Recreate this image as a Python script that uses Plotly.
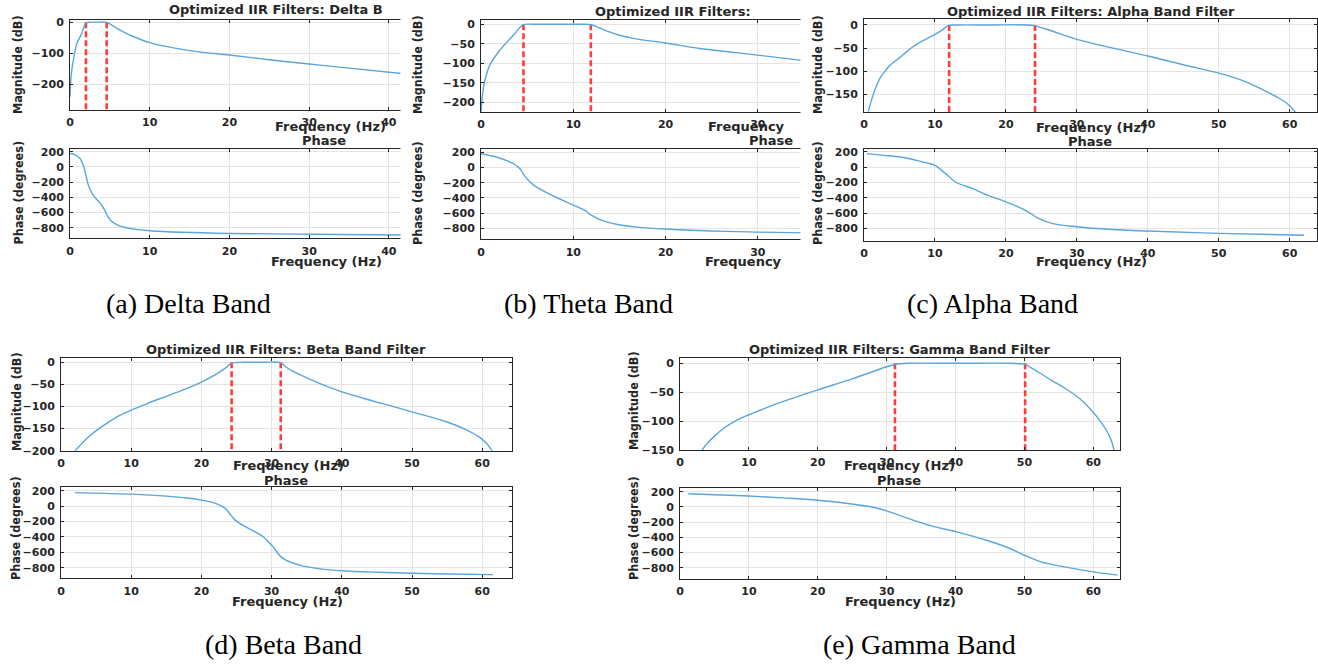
import plotly.graph_objects as go

W, H = 1318, 664

# ---------------- data ----------------
delta_mag_f = [0, 0.1, 0.2, 0.42, 0.84, 1.46, 2.0, 2.6, 3.5, 4.4, 4.8, 5.3, 5.9, 6.8, 8.0, 10, 13, 16, 20, 25, 30, 35, 41.9]
delta_mag_db = [-240, -190, -160, -123, -70, -37, -3, 0, 0, 0, -3, -10, -20, -33, -47, -66, -83, -95, -106, -121, -135, -148, -166]
delta_ph_f = [0, 0.6, 1.25, 1.67, 2.0, 2.3, 2.9, 3.8, 4.3, 4.8, 5.4, 6.2, 7.1, 8.5, 10, 14, 20, 30, 41.9]
delta_ph_deg = [180, 160, 110, 20, -110, -240, -370, -480, -560, -660, -730, -775, -800, -825, -840, -860, -875, -885, -895]
delta_edges = [2.0, 4.6]

theta_mag_f = [0.02, 0.18, 0.43, 0.97, 2.06, 3.5, 4.6, 5.5, 8, 11, 11.9, 12.5, 13.6, 15, 16.5, 20, 23.7, 27, 30, 35.0]
theta_mag_db = [-224, -177, -143, -104, -66, -28, -1, 0, 0, 0, -1, -6, -17, -28, -36, -48, -62, -71, -79, -93]
theta_ph_f = [0, 1, 2, 3, 3.5, 4.2, 4.8, 5.7, 7.5, 10, 11.2, 12, 13, 14.8, 17, 20, 25, 30, 35]
theta_ph_deg = [180, 155, 125, 80, 52, -13, -123, -233, -355, -496, -562, -630, -693, -750, -785, -810, -835, -850, -860]
theta_edges = [4.6, 11.9]

alpha_mag_f = [0.6, 1.0, 1.6, 2.25, 3.0, 3.66, 4.4, 5.07, 6.0, 6.9, 8.3, 9.8, 11.0, 11.9, 13, 18, 23, 24.1, 25.3, 26.7, 30, 35.1, 40, 45, 50, 53, 55.3, 57, 58.1, 59.5, 60.8]
alpha_mag_db = [-187, -165, -138, -115, -99, -87, -78, -70, -58, -47, -34, -22, -11, -1, 0, 0, 0, -2, -7, -14, -31, -50, -67, -86, -104, -118, -133, -146, -155, -168, -188]
alpha_ph_f = [0.4, 2.5, 5.1, 7.4, 9, 10, 11.5, 12.9, 15.3, 17.5, 20, 22.7, 24.6, 26.5, 30, 35, 40, 50, 62]
alpha_ph_deg = [175, 155, 130, 87, 50, 22, -86, -195, -281, -370, -455, -562, -670, -735, -779, -815, -835, -865, -890]
alpha_edges = [12.0, 24.1]

beta_mag_f = [2.0, 2.6, 3.3, 4.2, 5.5, 7, 8.5, 10, 12.5, 15, 17.5, 20, 22, 23.5, 24.3, 26, 29, 31.3, 32, 33, 35, 37.5, 40, 45, 50, 55, 57.5, 59.5, 60.6, 61.4]
beta_mag_db = [-200, -190, -178, -165, -149, -133, -119, -108, -92, -77, -62, -45, -28, -12, -2, 0, 0, -1, -10, -20, -35, -52, -67, -90, -112, -135, -151, -168, -183, -200]
beta_ph_f = [2, 6, 10, 15, 18, 20, 22, 23.4, 24.8, 26.7, 28.8, 30.1, 31.6, 34, 37, 40, 45, 50, 55, 61.5]
beta_ph_deg = [175, 165, 155, 130, 105, 78, 35, -30, -182, -290, -398, -519, -680, -766, -815, -840, -860, -873, -882, -890]
beta_edges = [24.3, 31.3]

gamma_mag_f = [3.2, 4.0, 5.0, 6.4, 8, 10, 12.5, 15, 20, 25, 30, 31.2, 33, 40, 48, 50.1, 51, 52, 54, 56, 58, 60, 61, 62, 62.6, 63]
gamma_mag_db = [-150, -138, -126, -112, -100, -89, -77, -66, -46, -27, -6, -2, 0, 0, 0, -2, -8, -15, -30, -44, -61, -85, -100, -118, -133, -150]
gamma_ph_f = [1.2, 5, 10, 15, 20, 25.2, 28.2, 30, 33.4, 36.5, 40, 44.6, 48, 50, 52.4, 55.8, 60, 63.5]
gamma_ph_deg = [173, 160, 143, 118, 87, 35, -8, -52, -160, -250, -325, -441, -550, -636, -723, -788, -853, -896]
gamma_edges = [31.2, 50.1]

mag_ticks_a = [0, -100, -200]
mag_ticks_50 = [0, -50, -100, -150, -200]
phase_ticks = [200, 0, -200, -400, -600, -800]
freq_ticks = [0, 10, 20, 30, 40, 50, 60]

captions = ["(a) Delta Band", "(b) Theta Band", "(c) Alpha Band", "(d) Beta Band", "(e) Gamma Band"]

# ---------------- layout helpers ----------------
def fx(p):
    return p / W

def fy(p):
    return 1 - p / H

BLUE = "#5aa5da"
RED = "#ff3b3b"
INK = "#262626"
BOLD = "DejaVu Sans"
NARROW = "Liberation Sans Narrow, DejaVu Sans Condensed, Arial Narrow, sans-serif"

panels = [
    dict(x=(70, 404), y=(20, 110), xr=[0, 41.9], yr=[-283, 7], yt=mag_ticks_a, f=delta_mag_f, v=delta_mag_db, edges=delta_edges),
    dict(x=(70, 404), y=(149, 238.3), xr=[0, 41.9], yr=[-939, 235], yt=phase_ticks, f=delta_ph_f, v=delta_ph_deg),
    dict(x=(481, 804), y=(20, 111.7), xr=[0, 35.0], yr=[-224, 11], yt=mag_ticks_50, f=theta_mag_f, v=theta_mag_db, edges=theta_edges),
    dict(x=(481, 804), y=(149.3, 239.3), xr=[0, 35.0], yr=[-945, 239], yt=phase_ticks, f=theta_ph_f, v=theta_ph_deg),
    dict(x=(864, 1316.7), y=(19.3, 112), xr=[0, 63.8], yr=[-188, 12.3], yt=mag_ticks_50[:4], f=alpha_mag_f, v=alpha_mag_db, edges=alpha_edges),
    dict(x=(864, 1316.7), y=(149, 240.5), xr=[0, 63.8], yr=[-958, 235], yt=phase_ticks, f=alpha_ph_f, v=alpha_ph_deg),
    dict(x=(61, 511.7), y=(357.7, 450.7), xr=[0, 64.2], yr=[-200, 10.4], yt=mag_ticks_50, f=beta_mag_f, v=beta_mag_db, edges=beta_edges),
    dict(x=(61, 511.7), y=(487.3, 578.3), xr=[0, 64.2], yr=[-938, 244], yt=phase_ticks, f=beta_ph_f, v=beta_ph_deg),
    dict(x=(680, 1119.5), y=(357.7, 450), xr=[0, 63.8], yr=[-150, 9.7], yt=mag_ticks_50[:4], f=gamma_mag_f, v=gamma_mag_db, edges=gamma_edges),
    dict(x=(680, 1119.5), y=(488.3, 579), xr=[0, 63.8], yr=[-947, 244], yt=phase_ticks, f=gamma_ph_f, v=gamma_ph_deg),
]

fig = go.Figure()
layout = dict(template="none", width=W, height=H, margin=dict(l=0, r=0, t=0, b=0, pad=0),
              paper_bgcolor="white", plot_bgcolor="white", showlegend=False, autosize=False)

tickfont = dict(family=BOLD, size=11, color=INK, weight="bold")

for i, p in enumerate(panels, start=1):
    xa = "xaxis" if i == 1 else f"xaxis{i}"
    ya = "yaxis" if i == 1 else f"yaxis{i}"
    xr_ = "x" if i == 1 else f"x{i}"
    yr_ = "y" if i == 1 else f"y{i}"
    common = dict(showline=True, linecolor=INK, linewidth=1, mirror="ticks", ticks="inside",
                  ticklen=3, tickcolor=INK, showgrid=True, gridcolor="#e4e4e4", gridwidth=1,
                  zeroline=False, tickfont=tickfont, fixedrange=True, automargin=False)
    layout[xa] = dict(common, domain=[fx(p["x"][0]), fx(p["x"][1])], range=p["xr"],
                      anchor=yr_, tickvals=freq_ticks, ticklabelstandoff=2)
    layout[ya] = dict(common, domain=[fy(p["y"][1]), fy(p["y"][0])], range=p["yr"],
                      anchor=xr_, tickvals=p["yt"], ticklabelstandoff=3)
    if "edges" in p:
        for e in p["edges"]:
            fig.add_trace(go.Scatter(x=[e, e], y=[0, p["yr"][0]], mode="lines",
                                     line=dict(color=RED, width=2.6, dash="6px,3px"),
                                     xaxis=xr_, yaxis=yr_, hoverinfo="skip"))
    fig.add_trace(go.Scatter(x=p["f"], y=p["v"], mode="lines",
                             line=dict(color=BLUE, width=1.4, shape="spline", smoothing=1.0),
                             xaxis=xr_, yaxis=yr_, hoverinfo="skip"))

annotations = []

def txt(text, x, y, size=13, family=BOLD, weight="bold", xanchor="center", angle=0, color=INK):
    annotations.append(dict(text=text, x=fx(x), y=fy(y), xref="paper", yref="paper",
                            showarrow=False, xanchor=xanchor, yanchor="middle", textangle=angle,
                            font=dict(family=family, size=size, color=color, weight=weight)))

txt("Optimized IIR Filters: Delta B", 167, 10, xanchor="left")
txt("Optimized IIR Filters:", 593, 11.5, xanchor="left")
txt("Optimized IIR Filters: Alpha Band Filter", 1091, 11.5)
txt("Optimized IIR Filters: Beta Band Filter", 286, 349)
txt("Optimized IIR Filters: Gamma Band Filter", 900, 349)
txt("Phase", 324, 141)
txt("Phase", 747, 141, xanchor="left")
txt("Phase", 1090, 141.5)
txt("Phase", 286, 480)
txt("Phase", 899, 480)
txt("Frequency (Hz)", 330, 127)
txt("Frequency", 706, 127, xanchor="left")
txt("Frequency (Hz)", 1091, 128)
txt("Frequency (Hz)", 288, 465)
txt("Frequency (Hz)", 899, 466)
txt("Frequency (Hz)", 326, 261.5)
txt("Frequency", 703, 261, xanchor="left")
txt("Frequency (Hz)", 1091, 261.5)
txt("Frequency (Hz)", 287, 601)
txt("Frequency (Hz)", 900, 601)
for (x, y, t) in [(17, 65, "Magnitude (dB)"), (417, 65, "Magnitude (dB)"), (817, 65, "Magnitude (dB)"),
                  (16, 402, "Magnitude (dB)"), (633, 401, "Magnitude (dB)"),
                  (17.5, 193, "Phase (degrees)"), (417, 193, "Phase (degrees)"), (817, 193, "Phase (degrees)"),
                  (15, 528, "Phase (degrees)"), (633, 528, "Phase (degrees)")]:
    txt(t, x, y, size=12.5, family=NARROW, angle=-90)
for (x, y), c in zip([(188, 303), (588, 303), (992, 303), (283, 644), (919, 644)], captions):
    txt(c, x, y, size=28, family="Liberation Serif, Times New Roman, serif", weight="normal", color="black")

layout["annotations"] = annotations
layout["shapes"] = [
    dict(type="rect", xref="paper", yref="paper", x0=fx(400.5), x1=fx(408), y0=fy(245), y1=fy(15),
         fillcolor="white", line=dict(width=0), layer="above"),
    dict(type="rect", xref="paper", yref="paper", x0=fx(800.5), x1=fx(808), y0=fy(245), y1=fy(15),
         fillcolor="white", line=dict(width=0), layer="above"),
]
fig.update_layout(**layout)
fig.write_html("out.html", config={"displayModeBar": False},
               post_script="document.body.style.margin='0';document.body.style.overflow='hidden';")
